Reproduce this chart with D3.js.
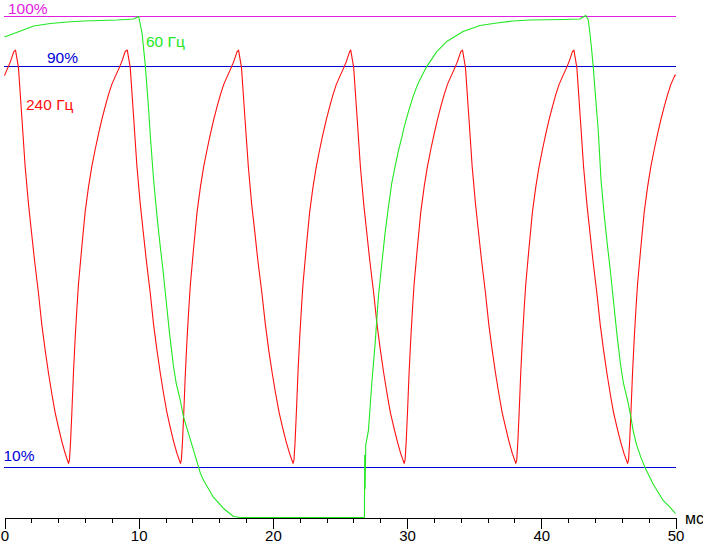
<!DOCTYPE html>
<html>
<head>
<meta charset="utf-8">
<script src="https://cdn.jsdelivr.net/npm/d3@7"></script>
<style>
  html, body { margin: 0; padding: 0; background: #fff; }
  svg { display: block; }
  text { font-family: "Liberation Sans", Arial, sans-serif; }
</style>
</head>
<body>
<div id="chart"></div>
<script>
// ---------- data ----------
const xDomain = [0, 50];                 // time, ms
const yDomain = [0, 100];                // brightness, %
const majorTicks = [0, 10, 20, 30, 40, 50];
const minorTicks = [0, 2, 4, 6, 8, 10, 12, 14, 16, 18, 20, 22, 24, 26, 28, 30, 32, 34, 36, 38, 40, 42, 44, 46, 48, 50];
const unitLabel = "мс";

const levelValues = [100, 90, 10];
const levelLabels = ["100%", "90%", "10%"];
const levelColors = ["#e020e0", "#0000d8", "#0000d8"];

const seriesNames = ["240 Гц", "60 Гц"];
const seriesColors = ["#ff1010", "#22e822"];

// 240 Hz response: [time ms, %]
const red240 = [
  [0, 88.2], [0.19, 89.4], [0.44, 91], [0.69, 93],
  [0.82, 93.3], [1.04, 89.8], [1.29, 80], [1.54, 70], [1.79, 62.5], [2.03, 56.5], [2.23, 51.5], [2.53, 44.8], [2.78, 38.5], [3.03, 33.4], [3.28, 28.8], [3.52, 24.8], [3.77, 21], [4.02, 18], [4.27, 15.2], [4.52, 12.8], [4.77, 10.8],
  [4.84, 11.5], [4.92, 15], [5.02, 21], [5.14, 29], [5.27, 36], [5.39, 41.5], [5.51, 46.5], [5.76, 54], [6.01, 61], [6.26, 66], [6.50, 70], [6.76, 73.5], [7.00, 76.5], [7.25, 79.4], [7.50, 82], [7.75, 84.4], [7.99, 86.4], [8.25, 88], [8.49, 89.4], [8.74, 91], [8.99, 93],
  [9.15, 93.3], [9.37, 89.8], [9.62, 80], [9.87, 70], [10.12, 62.5], [10.36, 56.5], [10.56, 51.5], [10.86, 44.8], [11.11, 38.5], [11.36, 33.4], [11.61, 28.8], [11.85, 24.8], [12.10, 21], [12.35, 18], [12.60, 15.2], [12.85, 12.8], [13.11, 10.8],
  [13.18, 11.5], [13.26, 15], [13.36, 21], [13.48, 29], [13.61, 36], [13.73, 41.5], [13.85, 46.5], [14.10, 54], [14.35, 61], [14.60, 66], [14.84, 70], [15.10, 73.5], [15.34, 76.5], [15.59, 79.4], [15.84, 82], [16.09, 84.4], [16.33, 86.4], [16.59, 88], [16.83, 89.4], [17.08, 91], [17.33, 93],
  [17.44, 93.3], [17.66, 89.8], [17.91, 80], [18.17, 70], [18.42, 62.5], [18.67, 56.5], [18.87, 51.5], [19.18, 44.8], [19.44, 38.5], [19.69, 33.4], [19.95, 28.8], [20.20, 24.8], [20.46, 21], [20.72, 18], [20.98, 15.2], [21.24, 12.8], [21.50, 10.8],
  [21.57, 11.5], [21.65, 15], [21.75, 21], [21.87, 29], [22.00, 36], [22.12, 41.5], [22.24, 46.5], [22.49, 54], [22.74, 61], [22.99, 66], [23.23, 70], [23.49, 73.5], [23.73, 76.5], [23.98, 79.4], [24.23, 82], [24.48, 84.4], [24.72, 86.4], [24.98, 88], [25.22, 89.4], [25.47, 91], [25.72, 93],
  [25.80, 93.3], [26.02, 89.8], [26.27, 80], [26.52, 70], [26.77, 62.5], [27.01, 56.5], [27.21, 51.5], [27.51, 44.8], [27.76, 38.5], [28.01, 33.4], [28.26, 28.8], [28.50, 24.8], [28.75, 21], [29.01, 18], [29.27, 15.2], [29.52, 12.8], [29.78, 10.8],
  [29.85, 11.5], [29.93, 15], [30.03, 21], [30.15, 29], [30.28, 36], [30.40, 41.5], [30.52, 46.5], [30.77, 54], [31.02, 61], [31.27, 66], [31.51, 70], [31.77, 73.5], [32.01, 76.5], [32.26, 79.4], [32.51, 82], [32.76, 84.4], [33.00, 86.4], [33.26, 88], [33.50, 89.4], [33.75, 91], [34.00, 93],
  [34.13, 93.3], [34.35, 89.8], [34.60, 80], [34.85, 70], [35.10, 62.5], [35.34, 56.5], [35.54, 51.5], [35.84, 44.8], [36.09, 38.5], [36.34, 33.4], [36.59, 28.8], [36.83, 24.8], [37.08, 21], [37.34, 18], [37.59, 15.2], [37.84, 12.8], [38.10, 10.8],
  [38.17, 11.5], [38.25, 15], [38.35, 21], [38.47, 29], [38.60, 36], [38.72, 41.5], [38.84, 46.5], [39.09, 54], [39.34, 61], [39.59, 66], [39.83, 70], [40.09, 73.5], [40.33, 76.5], [40.58, 79.4], [40.83, 82], [41.08, 84.4], [41.32, 86.4], [41.58, 88], [41.82, 89.4], [42.07, 91], [42.32, 93],
  [42.43, 93.3], [42.65, 89.8], [42.90, 80], [43.15, 70], [43.40, 62.5], [43.64, 56.5], [43.84, 51.5], [44.14, 44.8], [44.39, 38.5], [44.64, 33.4], [44.89, 28.8], [45.13, 24.8], [45.38, 21], [45.64, 18], [45.90, 15.2], [46.16, 12.8], [46.43, 10.8],
  [46.50, 11.5], [46.58, 15], [46.68, 21], [46.80, 29], [46.93, 36], [47.05, 41.5], [47.17, 46.5], [47.42, 54], [47.67, 61], [47.92, 66], [48.16, 70], [48.42, 73.5], [48.66, 76.5], [48.91, 79.4], [49.16, 82], [49.41, 84.4], [49.65, 86.4], [49.91, 88], [50, 88.4]
];

// 60 Hz response: [time ms, %]
const green60 = [
  [0, 95.9], [1.19, 97.1], [2.18, 98.1], [3.42, 98.6], [4.67, 98.9], [5.9, 99.1], [7.14, 99.2], [8.39, 99.3], [9.62, 99.5], [10.00, 100],
  [10.25, 96.7], [10.50, 90], [10.74, 81.4], [10.87, 76], [11.11, 67.4], [11.37, 60], [11.61, 54], [11.81, 49.4], [12.04, 43.4], [12.30, 36.7], [12.60, 30], [12.80, 26.7], [13.10, 23.4], [13.35, 20], [13.72, 16.7], [14.09, 13.4], [14.59, 8.9], [14.84, 7.4], [15.58, 4], [16.32, 1.8], [17.07, 0.2], [17.57, 0],
  [26.82, 0], [26.84, 12.4], [26.87, 5.8], [26.92, 14.5], [27.12, 17.4], [27.37, 26.8], [27.62, 34.8], [27.86, 44], [28.12, 50.8], [28.36, 56.8], [28.61, 62], [28.86, 66.8], [29.10, 70], [29.35, 73.2], [29.60, 75.8], [29.77, 77.8], [30.10, 81], [30.47, 84.2], [30.84, 86.8], [31.46, 90], [32.21, 93], [32.95, 95], [34.17, 97], [35.43, 98.2], [36.68, 98.7], [37.89, 99.1], [39.15, 99.3], [41.61, 99.4], [42.87, 99.5], [43.32, 100.2],
  [43.49, 99.4], [43.62, 96.8], [43.75, 93.4], [43.87, 90], [44.00, 85.4], [44.12, 81.4], [44.24, 77.4], [44.45, 67.4], [44.70, 60], [44.94, 54], [45.14, 49.4], [45.37, 43.4], [45.63, 36.7], [45.93, 30], [46.13, 26.7], [46.43, 23.4], [46.68, 20], [46.84, 17.4], [47.10, 14.5], [47.42, 12], [47.71, 10.1], [48.33, 6.7], [49.08, 3.4], [49.60, 2.0], [50, 0.8]
];

// ---------- drawing ----------
const W = 703, H = 545;
const svg = d3.select("#chart").append("svg")
  .attr("width", W).attr("height", H)
  .attr("viewBox", `0 0 ${W} ${H}`);

const x = d3.scaleLinear().domain(xDomain).range([4.5, 675.5]);
const y = d3.scaleLinear().domain(yDomain).range([517.5, 16.5]);

// reference level lines
svg.append("g").selectAll("line")
  .data(levelValues)
  .join("line")
  .attr("x1", x(xDomain[0]) - 0.5)
  .attr("x2", x(xDomain[1]) + 0.5)
  .attr("y1", d => Math.round(y(d) - 0.5) + 0.5)
  .attr("y2", d => Math.round(y(d) - 0.5) + 0.5)
  .attr("stroke", (d, i) => levelColors[i])
  .attr("stroke-width", 1)
  .attr("shape-rendering", "crispEdges");

// level labels
const levelLabelPos = [
  { dx: 8, by: 13.5 },
  { dx: 47, by: 63 },
  { dx: 3.5, by: 461 }
];
svg.append("g").selectAll("text")
  .data(levelLabels)
  .join("text")
  .attr("x", (d, i) => levelLabelPos[i].dx)
  .attr("y", (d, i) => levelLabelPos[i].by)
  .attr("fill", (d, i) => levelColors[i])
  .attr("font-size", "15.5px")
  .text(d => d);

// axes
const axisG = svg.append("g").attr("transform", `translate(0, ${y(0)})`);
axisG.call(d3.axisBottom(x).tickValues(minorTicks).tickSize(5).tickSizeOuter(0).tickFormat(""))
  .call(g => g.selectAll("path, line").attr("stroke", "#000").attr("shape-rendering", "crispEdges"));
const axisMajor = svg.append("g").attr("transform", `translate(0, ${y(0)})`);
axisMajor.call(d3.axisBottom(x).tickValues(majorTicks).tickSize(11).tickSizeOuter(0).tickPadding(2).tickFormat(d3.format("d")))
  .call(g => g.select(".domain").remove())
  .call(g => g.selectAll("line").attr("stroke", "#000").attr("shape-rendering", "crispEdges"))
  .call(g => g.selectAll("text")
      .attr("fill", "#000")
      .attr("font-size", "15px")
      .attr("font-family", "'Liberation Sans', Arial, sans-serif"));

svg.append("text")
  .attr("x", x(xDomain[1]) + 9.5)
  .attr("y", y(0) + 6)
  .attr("font-size", "16px")
  .attr("fill", "#000")
  .text(unitLabel);

// series
const line = d3.line().x(d => x(d[0])).y(d => y(d[1]));
const allSeries = [red240, green60];
svg.append("g").selectAll("path")
  .data(allSeries)
  .join("path")
  .attr("d", line)
  .attr("fill", "none")
  .attr("stroke", (d, i) => seriesColors[i])
  .attr("stroke-width", 1.1)
  .attr("stroke-linejoin", "round");

// series labels
const seriesLabelPos = [
  { dx: 26, by: 110 },
  { dx: 146, by: 47 }
];
svg.append("g").selectAll("text")
  .data(seriesNames)
  .join("text")
  .attr("x", (d, i) => seriesLabelPos[i].dx)
  .attr("y", (d, i) => seriesLabelPos[i].by)
  .attr("fill", (d, i) => seriesColors[i])
  .attr("font-size", "15.5px")
  .text(d => d);
</script>
</body>
</html>
